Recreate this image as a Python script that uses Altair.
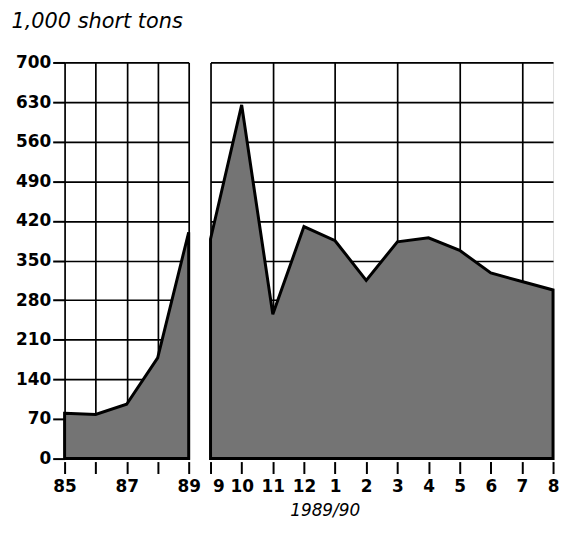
import altair as alt
import pandas as pd

years = [85, 86, 87, 88, 89]
year_values = [80, 78, 96, 178, 400]
month_labels = ["9", "10", "11", "12", "1", "2", "3", "4", "5", "6", "7", "8"]
month_values = [388, 625, 255, 410, 385, 315, 383, 390, 368, 328, 313, 298]
y_ticks = [0, 70, 140, 210, 280, 350, 420, 490, 560, 630, 700]

FONT = "DejaVu Sans"
FILL = "#747474"

left_df = pd.DataFrame({"year": years, "value": year_values})
right_df = pd.DataFrame({"idx": list(range(len(month_labels))), "month": month_labels, "value": month_values})

y_scale = alt.Scale(domain=[0, 700], nice=False, zero=True)

common_axis = dict(
    labelFont=FONT, labelFontSize=17, labelFontWeight="bold", labelColor="black",
    tickColor="black", tickWidth=2, gridColor="black", gridWidth=1.7, domain=False,
)

left = alt.Chart(left_df).mark_area(color=FILL, stroke="black", strokeWidth=3).encode(
    x=alt.X("year:Q", scale=alt.Scale(domain=[85, 89], nice=False, zero=False),
            axis=alt.Axis(values=years, title=None, grid=True, tickSize=12, offset=3,
                          labelPadding=5, labelFlush=False,
                          labelExpr="datum.value % 2 == 1 ? datum.label : ''", **common_axis)),
    y=alt.Y("value:Q", scale=y_scale,
            axis=alt.Axis(values=y_ticks, title="1,000 short tons", grid=True, tickSize=12,
                          labelPadding=2,
                          titleAngle=0, titleAlign="left", titleBaseline="middle",
                          titleX=-54, titleY=-41, titleFont=FONT, titleFontSize=21,
                          titleFontStyle="italic", titleFontWeight="normal", titleColor="black",
                          **common_axis)),
).properties(width=125, height=399)

month_expr = "[" + ",".join("'%s'" % m for m in month_labels) + "][datum.value]"

right = alt.Chart(right_df).mark_area(color=FILL, stroke="black", strokeWidth=3).encode(
    x=alt.X("idx:Q", scale=alt.Scale(domain=[0, len(month_labels) - 1], nice=False, zero=False),
            axis=alt.Axis(values=list(range(len(month_labels))), title="1989/90", grid=True,
                          gridOpacity={"condition": {"test": "datum.value % 2 == 0", "value": 1}, "value": 0},
                          labelAlign={"condition": {"test": "datum.value == 0", "value": "left"}, "value": "center"},
                          labelOffset={"condition": {"test": "datum.value == 0", "value": 2}, "value": 0},
                          tickSize=12, offset=3, labelPadding=5, labelFlush=False,
                          labelExpr=month_expr,
                          titleFont=FONT, titleFontSize=17, titleFontStyle="italic",
                          titleFontWeight="normal", titleColor="black", titlePadding=8,
                          titleX=115, titleAlign="center", **common_axis)),
    y=alt.Y("value:Q", scale=y_scale,
            axis=alt.Axis(values=y_ticks, title=None, grid=True, labels=False, ticks=False,
                          **common_axis)),
).properties(width=345, height=399)

chart = alt.hconcat(left, right, spacing=2).properties(
    padding={"left": 2, "top": 0, "right": 0, "bottom": 0},
).configure_view(stroke="black", strokeWidth=2).configure(background="white")

chart.save("out.html", embed_options={"renderer": "svg", "actions": False})
